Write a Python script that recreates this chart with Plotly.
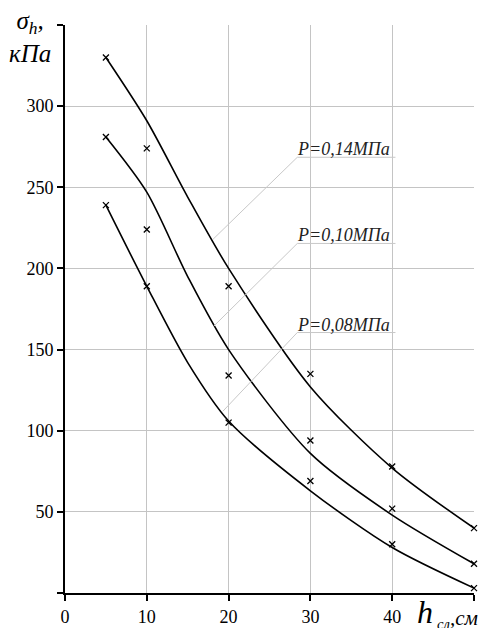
import plotly.graph_objects as go

# measured points (markers)
x_pts = [5, 10, 20, 30, 40, 50]
p014_pts = [330, 274, 189, 135, 78, 40]
p010_pts = [281, 224, 134, 94, 52, 18]
p008_pts = [239, 189, 105, 69, 30, 3]

# fitted curves
x_fit = [5, 10, 15, 20, 30, 40, 50]
p014_fit = [330, 291, 244, 200, 127, 77, 40]
p010_fit = [281, 247, 195, 150, 86, 48, 18]
p008_fit = [239, 189, 142, 106, 63, 28, 3]

labels = ["P=0,14МПа", "P=0,10МПа", "P=0,08МПа"]
# leader: (x_text, y_underline, x_end, y_end)
leaders = [(28.4, 268.5, 18.1, 218), (28.4, 215.4, 18.1, 164), (28.4, 160.5, 19.3, 112)]
underline_end = 40.4

x_ticks = [0, 10, 20, 30, 40, 50]
x_ticktext = ["0", "10", "20", "30", "40", ""]
y_ticks = [0, 50, 100, 150, 200, 250, 300, 350]
y_ticktext = ["", "50", "100", "150", "200", "250", "300", ""]

fig = go.Figure()
for fit in (p014_fit, p010_fit, p008_fit):
    fig.add_trace(go.Scatter(x=x_fit, y=fit, mode="lines",
                             line=dict(color="black", width=1.6, shape="spline", smoothing=0.8),
                             showlegend=False, hoverinfo="skip", cliponaxis=False))
for pts in (p014_pts, p010_pts, p008_pts):
    fig.add_trace(go.Scatter(x=x_pts, y=pts, mode="markers",
                             marker=dict(symbol="x-thin", size=6, line=dict(color="black", width=1.3)),
                             showlegend=False, cliponaxis=False))

for (xt, yu, xe, ye), lab in zip(leaders, labels):
    fig.add_shape(type="line", x0=xe, y0=ye, x1=xt, y1=yu, line=dict(color="#c8c8c8", width=1))
    fig.add_shape(type="line", x0=xt, y0=yu, x1=underline_end, y1=yu, line=dict(color="#c8c8c8", width=1))
    fig.add_annotation(x=xt, y=yu, xref="x", yref="y", text="<i>" + lab + "</i>", showarrow=False,
                       xanchor="left", yanchor="bottom", yshift=-4, xshift=-2,
                       font=dict(family="Liberation Serif", size=18, color="#222"))

serif = "Liberation Serif"
# y-axis title
fig.add_annotation(xref="paper", yref="paper", x=-0.085, y=1.036, xanchor="center", yanchor="top",
                   text="<i>σ<sub>h</sub>,</i><br><i>кПа</i>", showarrow=False,
                   font=dict(family=serif, size=25, color="black"))

# x-axis title
fig.add_annotation(xref="paper", yref="paper", x=0.855, y=0.002, xanchor="left", yanchor="top",
                   text="<i>h</i>", showarrow=False,
                   font=dict(family=serif, size=32, color="black"))
fig.add_annotation(xref="paper", yref="paper", x=0.905, y=-0.019, xanchor="left", yanchor="top",
                   text="<i><sub>сл</sub>,см</i>", showarrow=False,
                   font=dict(family=serif, size=21, color="black"))

axis_common = dict(showline=True, linecolor="black", linewidth=2, ticks="outside", ticklen=6, tickwidth=1.5,
                   tickcolor="black", showgrid=True, gridcolor="#c4c4c4", gridwidth=1, zeroline=False,
                   automargin=False,
                   tickfont=dict(family=serif, size=18, color="black"), mirror=False)

fig.update_xaxes(range=[0, 50], tickvals=x_ticks, ticktext=x_ticktext, **axis_common)
fig.update_yaxes(range=[0, 350], tickvals=y_ticks, ticktext=y_ticktext, **axis_common)

fig.update_layout(width=486, height=628, margin=dict(l=65, r=12, t=25, b=35),
                  paper_bgcolor="white", plot_bgcolor="white")

fig.write_html("out.html", config={"displayModeBar": False},
               post_script="document.body.style.margin='0';document.body.style.overflow='hidden';")
